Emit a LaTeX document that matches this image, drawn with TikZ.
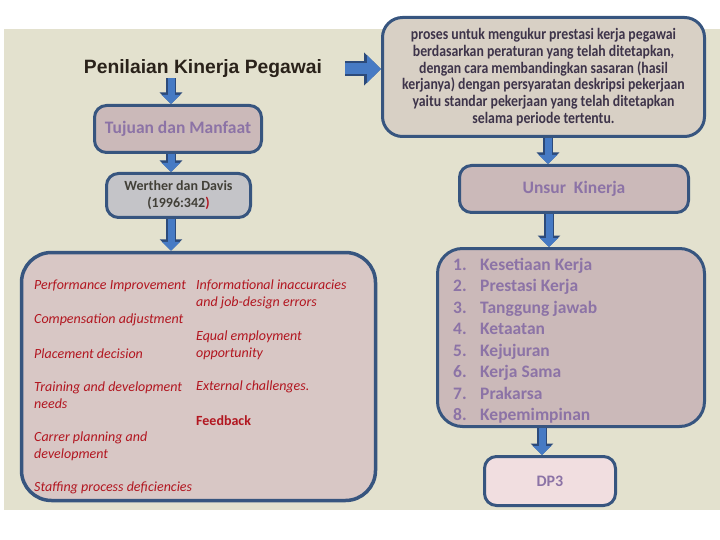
\documentclass[tikz,border=0pt]{standalone}
\usepackage{fontspec}
\setmainfont{Carlito}
\newfontfamily\titlefont{Liberation Sans}
\newfontfamily\defnfont[FakeStretch=0.86]{Carlito}
\usetikzlibrary{arrows.meta}
\definecolor{slidebg}{RGB}{227,225,206}
\definecolor{boxedge}{RGB}{55,85,127}
\definecolor{arrowfill}{RGB}{70,122,196}
\definecolor{arrowedge}{RGB}{44,74,122}
\definecolor{mauvefill}{RGB}{203,185,185}
\definecolor{greyfill}{RGB}{196,196,200}
\definecolor{pinkfill}{RGB}{216,199,197}
\definecolor{sandfill}{RGB}{216,208,197}
\definecolor{palefill}{RGB}{241,222,224}
\definecolor{violettext}{RGB}{140,115,166}
\definecolor{redtext}{RGB}{178,22,32}
\definecolor{greytext}{RGB}{66,64,56}
\definecolor{inktext}{RGB}{62,52,74}
\definecolor{titletext}{RGB}{42,34,26}
\tikzset{
  box/.style   ={draw=boxedge, line width=3pt, rounded corners=12pt, inner sep=0pt},
  lab/.style   ={font=\fontsize{17.5}{21}\selectfont\bfseries, text=violettext},
  itm/.style   ={font=\fontsize{14}{17}\selectfont\itshape, text=redtext, inner sep=0pt, anchor=west, align=left},
  lst/.style   ={font=\fontsize{17.5}{21}\selectfont\bfseries, text=violettext, inner sep=0pt, anchor=base west},
  blk/.style   ={preaction={draw=arrowedge, line width=10pt, -{Triangle[width=22pt,length=11.5pt]}},
                 draw=arrowfill, line width=7pt, -{Triangle[width=18pt,length=9pt]}},
  blkbig/.style={preaction={draw=arrowedge, line width=15pt, -{Triangle[width=32pt,length=17pt]}},
                 draw=arrowfill, line width=11pt, -{Triangle[width=27pt,length=14pt]}},
}
\begin{document}
\begin{tikzpicture}[x=1pt,y=-1pt]
  \useasboundingbox (0,0) rectangle (720,540);
  \fill[slidebg] (4,29) rectangle (720,510);
  % left column
  \node[font=\titlefont\bfseries\fontsize{19.3}{23}\selectfont, text=titletext, inner sep=0pt] (title) at (203,69) {Penilaian Kinerja Pegawai};
  \node[box, lab, fill=mauvefill, minimum width=167pt, minimum height=47pt] (tujuan) at (178,129) {Tujuan dan Manfaat};
  \node[box, fill=greyfill, minimum width=144pt, minimum height=44pt, align=center,
        font=\fontsize{14}{17}\selectfont\bfseries, text=greytext] (werther) at (178.5,195.5)
        {Werther dan Davis\\(1996:342{\color{redtext})}};
  \node[box, fill=pinkfill, rounded corners=30pt, line width=3.5pt, minimum width=354pt, minimum height=248pt] (bigbox) at (198.5,376.5) {};
  \node[itm] (perf) at (34,286) {Performance Improvement};
  \node[itm] (comp) at (34,320) {Compensation adjustment};
  \node[itm] (plac) at (34,354) {Placement decision};
  \node[itm] (train) at (34,395.5) {Training and development\\needs};
  \node[itm] (carrer) at (34,446) {Carrer planning and\\development};
  \node[itm] (staff) at (34,488) {Staffing process deficiencies};
  \node[itm] (info) at (196,294.5) {Informational inaccuracies\\and job-design errors};
  \node[itm] (equal) at (196,345.5) {Equal employment\\opportunity};
  \node[itm] (extern) at (196,387) {External challenges.};
  \node[itm, font=\fontsize{14}{17}\selectfont\bfseries] (feed) at (196,421) {Feedback};
  % right column
  \node[box, fill=sandfill, rounded corners=20pt, minimum width=322pt, minimum height=119pt, align=center,
        font=\defnfont\bfseries\fontsize{16}{16.7}\selectfont, text=inktext] (defn) at (543.5,77)
        {proses untuk mengukur prestasi kerja pegawai\\
         berdasarkan peraturan yang telah ditetapkan,\\
         dengan cara membandingkan sasaran (hasil\\
         kerjanya) dengan persyaratan deskripsi pekerjaan\\
         yaitu standar pekerjaan yang telah ditetapkan\\
         selama periode tertentu.};
  \node[box, lab, fill=mauvefill, minimum width=229pt, minimum height=47pt] (unsur) at (574,189) {Unsur\ \ Kinerja};
  \node[box, fill=mauvefill, rounded corners=25pt, minimum width=267pt, minimum height=178pt] (list) at (571,337.5) {};
  \node[lst] (k1) at (453,270) {\makebox[27pt][l]{1.}Kesetiaan Kerja};
  \node[lst] (k2) at (453,291.5) {\makebox[27pt][l]{2.}Prestasi Kerja};
  \node[lst] (k3) at (453,313) {\makebox[27pt][l]{3.}Tanggung jawab};
  \node[lst] (k4) at (453,334.5) {\makebox[27pt][l]{4.}Ketaatan};
  \node[lst] (k5) at (453,356) {\makebox[27pt][l]{5.}Kejujuran};
  \node[lst] (k6) at (453,377.5) {\makebox[27pt][l]{6.}Kerja Sama};
  \node[lst] (k7) at (453,399) {\makebox[27pt][l]{7.}Prakarsa};
  \node[lst] (k8) at (453,420.5) {\makebox[27pt][l]{8.}Kepemimpinan};
  \node[box, lab, fill=palefill, minimum width=131pt, minimum height=49pt, font=\fontsize{16}{20}\selectfont\bfseries] (dp3) at (550,481) {DP3};
  % arrows
  \draw[blk] ([xshift=-7pt]tujuan.north |- title.south) -- ([xshift=-7pt]tujuan.north);
  \draw[blk] ([xshift=-7pt]tujuan.south) -- ([xshift=-7pt]tujuan.south |- werther.north);
  \draw[blk] ([xshift=-7.5pt]werther.south) -- ([xshift=-7.5pt]werther.south |- bigbox.north);
  \draw[blkbig] ([xshift=23pt]title.east) -- (title.east -| defn.west);
  \draw[blk] ([xshift=4.5pt]defn.south) -- ([xshift=4.5pt]defn.south |- unsur.north);
  \draw[blk] ([xshift=-25pt]unsur.south) -- ([xshift=-25pt]unsur.south |- list.north);
  \draw[blk] ([xshift=-29pt]list.south) -- ([xshift=-29pt]list.south |- dp3.north);
\end{tikzpicture}
\end{document}
